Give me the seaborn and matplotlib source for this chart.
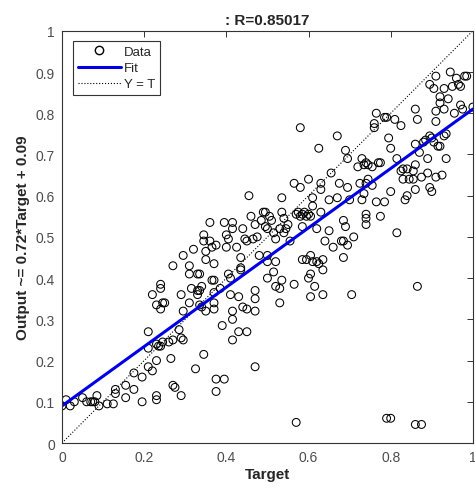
import numpy as np
import pandas as pd
import matplotlib
matplotlib.use("Agg")
import matplotlib.pyplot as plt
import seaborn as sns
from matplotlib.lines import Line2D

# (target, output) pairs, grouped by target range
low_points = [
    (0.00, 0.09), (0.01, 0.105), (0.02, 0.09), (0.03, 0.10), (0.05, 0.11), (0.06, 0.10),
    (0.07, 0.10), (0.075, 0.10), (0.08, 0.10), (0.085, 0.115), (0.09, 0.09), (0.11, 0.095),
    (0.125, 0.095), (0.13, 0.12), (0.13, 0.13), (0.155, 0.11), (0.155, 0.14), (0.175, 0.13),
    (0.175, 0.17), (0.195, 0.10), (0.195, 0.16), (0.21, 0.27), (0.21, 0.23), (0.21, 0.185),
    (0.22, 0.175), (0.22, 0.36), (0.23, 0.335), (0.23, 0.115), (0.23, 0.105), (0.23, 0.20),
    (0.235, 0.235), (0.24, 0.385), (0.24, 0.375), (0.24, 0.325), (0.245, 0.34), (0.25, 0.34),
    (0.23, 0.24), (0.24, 0.235), (0.245, 0.245), (0.26, 0.245), (0.265, 0.205), (0.27, 0.14),
    (0.275, 0.135), (0.27, 0.43), (0.27, 0.25), (0.285, 0.275), (0.29, 0.255), (0.295, 0.25),
    (0.29, 0.36), (0.29, 0.115), (0.295, 0.32), (0.295, 0.455),
]
mid_points = [
    (0.31, 0.43), (0.31, 0.41), (0.315, 0.375), (0.31, 0.34), (0.32, 0.47), (0.325, 0.18),
    (0.33, 0.37), (0.33, 0.36), (0.335, 0.37), (0.33, 0.41), (0.335, 0.41), (0.34, 0.38),
    (0.335, 0.335), (0.34, 0.33), (0.345, 0.49), (0.345, 0.505), (0.345, 0.215), (0.35, 0.465),
    (0.35, 0.445), (0.35, 0.32), (0.36, 0.535), (0.36, 0.49), (0.365, 0.475), (0.37, 0.435),
    (0.365, 0.395), (0.37, 0.395), (0.37, 0.365), (0.37, 0.34), (0.37, 0.325), (0.375, 0.155),
    (0.375, 0.125), (0.375, 0.48), (0.385, 0.375), (0.39, 0.285), (0.395, 0.155), (0.395, 0.535),
    (0.40, 0.505), (0.405, 0.495), (0.40, 0.475), (0.405, 0.41), (0.41, 0.40), (0.41, 0.36),
    (0.415, 0.535), (0.415, 0.52), (0.415, 0.30), (0.415, 0.25), (0.415, 0.32), (0.425, 0.475),
    (0.43, 0.27), (0.43, 0.355), (0.435, 0.425), (0.435, 0.42), (0.435, 0.45), (0.44, 0.52),
    (0.445, 0.495), (0.45, 0.49), (0.44, 0.33), (0.45, 0.325), (0.45, 0.27), (0.455, 0.60),
    (0.46, 0.55), (0.465, 0.495), (0.47, 0.53), (0.47, 0.35), (0.47, 0.37), (0.47, 0.185),
    (0.47, 0.32), (0.475, 0.50), (0.48, 0.455), (0.485, 0.54), (0.49, 0.56), (0.495, 0.56),
    (0.495, 0.525),
]
upper_mid_points = [
    (0.50, 0.52), (0.50, 0.455), (0.50, 0.44), (0.50, 0.40), (0.505, 0.55), (0.51, 0.54),
    (0.515, 0.51), (0.52, 0.495), (0.515, 0.415), (0.52, 0.44), (0.52, 0.38), (0.53, 0.375),
    (0.53, 0.34), (0.535, 0.395), (0.535, 0.595), (0.53, 0.52), (0.54, 0.51), (0.545, 0.52),
    (0.55, 0.53), (0.535, 0.56), (0.54, 0.545), (0.555, 0.49), (0.565, 0.385), (0.565, 0.63),
    (0.57, 0.555), (0.575, 0.56), (0.58, 0.55), (0.585, 0.555), (0.59, 0.56), (0.595, 0.55),
    (0.60, 0.555), (0.605, 0.55), (0.58, 0.62), (0.58, 0.765), (0.585, 0.525), (0.585, 0.445),
    (0.595, 0.445), (0.605, 0.455), (0.61, 0.44), (0.60, 0.64), (0.60, 0.40), (0.605, 0.41),
    (0.605, 0.355), (0.61, 0.595), (0.61, 0.575), (0.615, 0.38), (0.62, 0.52), (0.625, 0.715),
    (0.62, 0.44), (0.625, 0.435), (0.63, 0.615), (0.63, 0.63), (0.63, 0.56), (0.635, 0.36),
    (0.635, 0.42), (0.635, 0.445), (0.64, 0.49), (0.65, 0.515), (0.655, 0.655), (0.65, 0.59),
    (0.66, 0.475), (0.67, 0.745), (0.67, 0.595), (0.675, 0.63), (0.68, 0.49), (0.685, 0.49),
    (0.69, 0.71), (0.695, 0.69), (0.695, 0.62), (0.685, 0.54), (0.69, 0.525), (0.685, 0.45),
    (0.695, 0.48),
]
high_points = [
    (0.70, 0.59), (0.705, 0.36), (0.71, 0.50), (0.72, 0.67), (0.725, 0.63), (0.73, 0.69),
    (0.735, 0.675), (0.74, 0.68), (0.745, 0.675), (0.73, 0.59), (0.735, 0.605), (0.74, 0.63),
    (0.74, 0.555), (0.74, 0.545), (0.74, 0.53), (0.745, 0.64), (0.755, 0.67), (0.755, 0.625),
    (0.76, 0.775), (0.76, 0.765), (0.765, 0.80), (0.765, 0.585), (0.77, 0.68), (0.775, 0.68),
    (0.775, 0.55), (0.785, 0.79), (0.79, 0.79), (0.785, 0.585), (0.795, 0.74), (0.80, 0.715),
    (0.80, 0.61), (0.81, 0.785), (0.815, 0.69), (0.815, 0.51), (0.825, 0.77), (0.825, 0.66),
    (0.83, 0.64), (0.83, 0.665), (0.84, 0.665), (0.835, 0.59), (0.84, 0.60), (0.845, 0.64),
]
top_points = [
    (0.855, 0.64), (0.855, 0.66), (0.86, 0.675), (0.86, 0.615), (0.86, 0.725), (0.86, 0.81),
    (0.865, 0.785), (0.865, 0.38), (0.87, 0.705), (0.875, 0.645), (0.88, 0.73), (0.885, 0.735),
    (0.89, 0.69), (0.89, 0.655), (0.895, 0.87), (0.895, 0.745), (0.90, 0.74), (0.905, 0.73),
    (0.895, 0.62), (0.90, 0.61), (0.905, 0.86), (0.91, 0.805), (0.91, 0.89), (0.91, 0.78),
    (0.91, 0.645), (0.915, 0.72), (0.92, 0.825), (0.92, 0.72), (0.92, 0.84), (0.93, 0.86),
    (0.93, 0.81), (0.93, 0.745), (0.925, 0.65), (0.935, 0.69), (0.935, 0.75), (0.94, 0.835),
    (0.945, 0.90), (0.95, 0.865), (0.955, 0.80), (0.96, 0.885), (0.965, 0.87), (0.97, 0.82),
    (0.97, 0.865), (0.98, 0.89), (0.985, 0.89), (0.975, 0.81), (1.00, 0.815),
]
outlier_points = [(0.57, 0.05), (0.79, 0.06), (0.80, 0.06), (0.86, 0.045), (0.875, 0.045)]

fit_slope = 0.72
fit_intercept = 0.09
r_value = 0.85017
xticks = [0, 0.2, 0.4, 0.6, 0.8, 1]
yticks = [0, 0.1, 0.2, 0.3, 0.4, 0.5, 0.6, 0.7, 0.8, 0.9, 1]

all_points = low_points + mid_points + upper_mid_points + high_points + top_points + outlier_points
df = pd.DataFrame(all_points, columns=["Target", "Output"])
line_x = np.array([0, 1])
fit_df = pd.DataFrame({"x": line_x, "y": fit_slope * line_x + fit_intercept})
yt_df = pd.DataFrame({"x": line_x, "y": line_x})

sns.set_style("white")
plt.rcParams["font.family"] = ["Liberation Sans", "DejaVu Sans"]

fig = plt.figure(figsize=(4.75, 4.89), dpi=100)
ax = fig.add_axes([0.1305, 0.092, 0.865, 0.843])

sns.lineplot(data=yt_df, x="x", y="y", ax=ax, color="black", linestyle=":", linewidth=0.8)
sns.scatterplot(data=df, x="Target", y="Output", ax=ax, marker="o", s=32,
                facecolors="none", edgecolor="black", linewidth=0.75)
sns.lineplot(data=fit_df, x="x", y="y", ax=ax, color="#0000e6", linewidth=2.2)

ax.set_xlim(0, 1)
ax.set_ylim(0, 1)
ax.set_xticks(xticks)
ax.set_yticks(yticks)
ax.set_xticklabels([f"{t:g}" for t in xticks])
ax.set_yticklabels([f"{t:g}" for t in yticks])
ax.tick_params(direction="in", length=4, width=0.7, top=True, right=True,
               labelsize=10, labelcolor="#4d4d4d", color="#333333", pad=5)
for sp in ax.spines.values():
    sp.set_color("#333333")
    sp.set_linewidth(0.8)

ax.set_xlabel("Target", fontsize=11, fontweight="bold", color="#262626", labelpad=2)
ax.set_ylabel(f"Output ~= {fit_slope:.2f}*Target + {fit_intercept:.2f}", fontsize=11,
              fontweight="bold", color="#262626", labelpad=4)
ax.set_title(f": R={r_value:.5f}", fontsize=11, fontweight="bold", pad=5)

handles = [
    Line2D([], [], marker="o", linestyle="none", markerfacecolor="none",
           markeredgecolor="black", markersize=6),
    Line2D([], [], color="#0000e6", linewidth=2.2),
    Line2D([], [], color="black", linestyle=":", linewidth=0.8),
]
leg = ax.legend(handles, ["Data", "Fit", "Y = T"], loc="upper left",
                bbox_to_anchor=(0.027, 0.975), borderaxespad=0, fontsize=9.5,
                handlelength=3.3, handletextpad=0.2, borderpad=0.35, labelspacing=0.3,
                fancybox=False, framealpha=1, edgecolor="#333333")
leg.get_frame().set_linewidth(0.8)
for t in leg.get_texts():
    t.set_color("#262626")

fig.savefig("out.png", dpi=100)
